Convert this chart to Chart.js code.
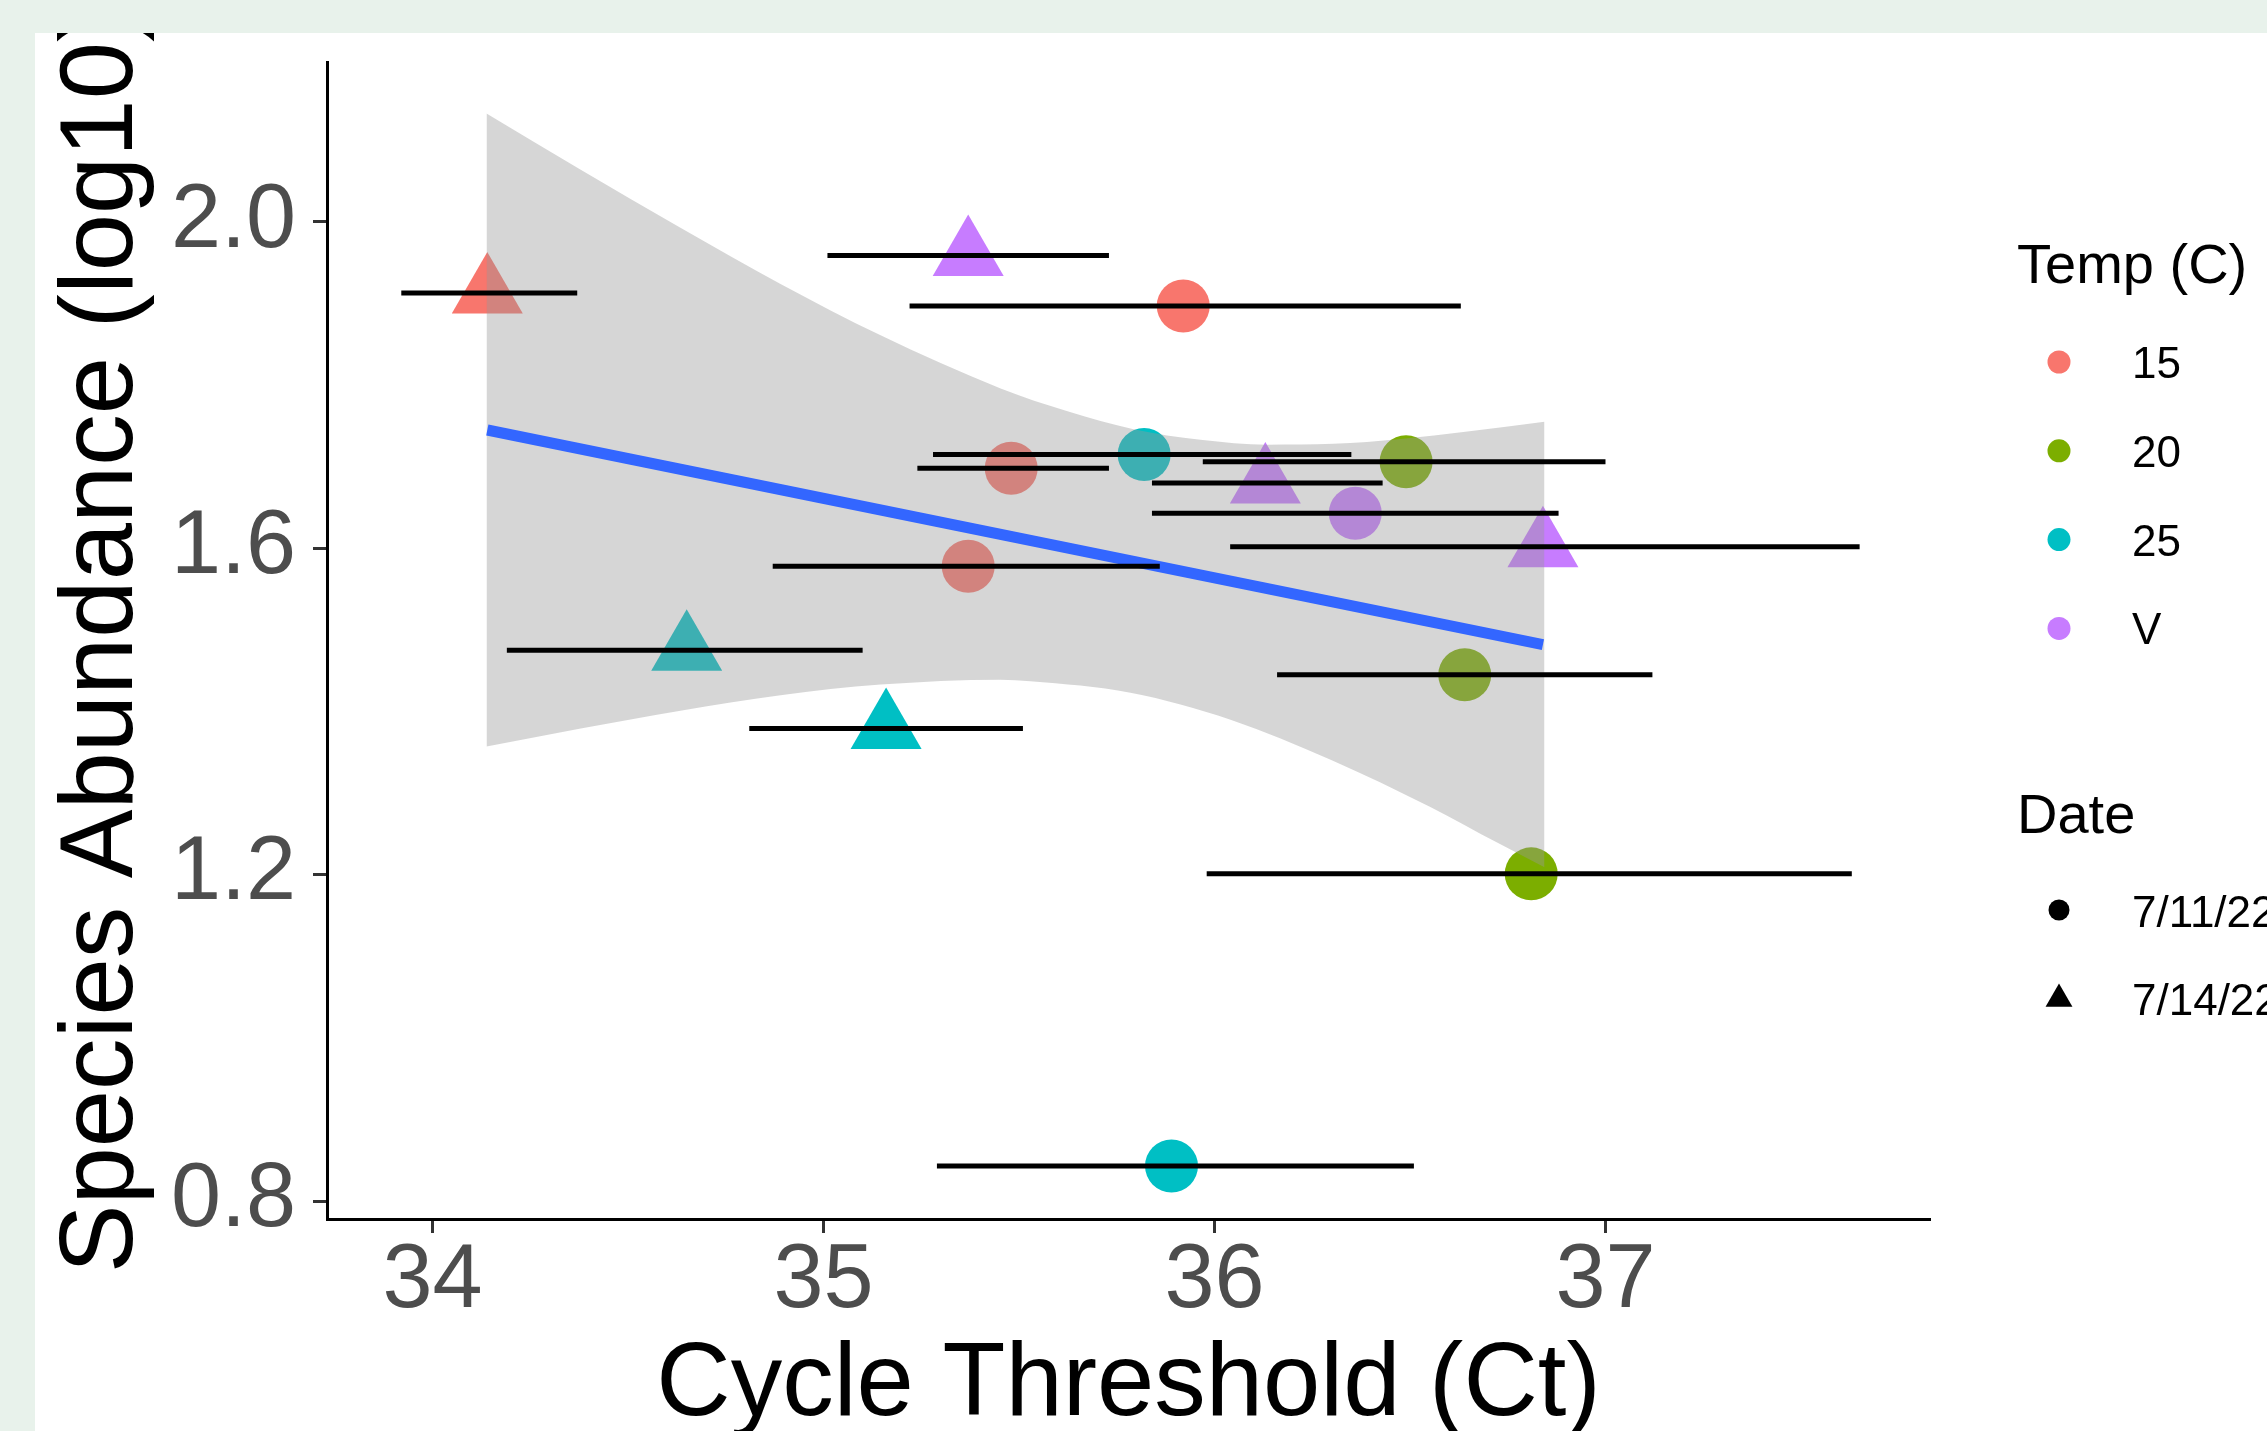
<!DOCTYPE html>
<html>
<head>
<meta charset="utf-8">
<script src="https://cdn.jsdelivr.net/npm/chart.js"></script>
<style>
  html, body { margin: 0; padding: 0; background: #e8f2eb; width: 2267px; height: 1431px; overflow: hidden; }
  #chart { position: absolute; left: 35px; top: 33px; background: #ffffff; }
</style>
</head>
<body>
<canvas id="chart" width="2232" height="1398"></canvas>
<script>
// legend groups
const temps = ["15", "20", "25", "V"];
const tempColors = ["#F8766D", "#7CAE00", "#00BFC4", "#C77CFF"];
const dates = ["7/11/22", "7/14/22"];
const dateShapes = ["circle", "triangle"];

// one entry per sample
const sampleTemp = ["15", "V", "15", "15", "25", "V", "20", "V", "V", "15", "25", "25", "20", "20", "25"];
const sampleDate = ["7/14/22", "7/14/22", "7/11/22", "7/11/22", "7/11/22", "7/14/22", "7/11/22", "7/11/22",
                    "7/14/22", "7/11/22", "7/14/22", "7/14/22", "7/11/22", "7/11/22", "7/11/22"];
const ctValues = [34.14, 35.37, 35.92, 35.48, 35.82, 36.13, 36.49, 36.36, 36.84, 35.37, 34.65, 35.16, 36.64, 36.81, 35.89];
const abundance = [1.913, 1.959, 1.897, 1.698, 1.715, 1.680, 1.706, 1.643, 1.602, 1.578, 1.475, 1.379, 1.445, 1.201, 0.843];
const ctLow = [33.92, 35.01, 35.22, 35.24, 35.28, 35.84, 35.97, 35.84, 36.04, 34.87, 34.19, 34.81, 36.16, 35.98, 35.29];
const ctHigh = [34.37, 35.73, 36.63, 35.73, 36.35, 36.43, 37.00, 36.88, 37.65, 35.86, 35.10, 35.51, 37.12, 37.63, 36.51];

// linear fit and its confidence band
const fitX = [34.14, 36.84];
const fitY = [1.745, 1.482];
const bandUpperX = [34.138, 34.379, 34.634, 34.890, 35.146, 35.453, 35.624, 35.793, 35.964, 36.136, 36.304, 36.476, 36.647, 36.844];
const bandUpperY = [2.133, 2.064, 1.993, 1.924, 1.861, 1.796, 1.768, 1.746, 1.733, 1.727, 1.728, 1.734, 1.743, 1.755];
const bandLowerX = [34.138, 34.379, 34.634, 34.890, 35.146, 35.453, 35.529, 35.785, 36.041, 36.297, 36.552, 36.724, 36.844];
const bandLowerY = [1.357, 1.379, 1.401, 1.420, 1.433, 1.439, 1.437, 1.423, 1.390, 1.341, 1.283, 1.239, 1.209];

// axes
const xTicks = [34, 35, 36, 37];
const yTicks = [0.8, 1.2, 1.6, 2.0];

const family = "'Liberation Sans', Arial, Helvetica, sans-serif";
Chart.defaults.font.family = family;

const colorOf = i => tempColors[temps.indexOf(sampleTemp[i])];
const shapeOf = i => dateShapes[dates.indexOf(sampleDate[i])];
const toPoints = (xs, ys) => xs.map((x, i) => ({ x, y: ys[i] }));

const errorBars = ctValues.map((_, i) => ({
    type: "line",
    data: [{ x: ctLow[i], y: abundance[i] }, { x: ctHigh[i], y: abundance[i] }],
    borderColor: "#000000",
    borderWidth: 5,
    pointRadius: 0,
    fill: false,
    order: 1,
}));

const ggLegend = {
    id: "ggLegend",
    afterDraw(chart) {
        const ctx = chart.ctx;
        const dot = (x, y, r) => { ctx.beginPath(); ctx.arc(x, y, r, 0, Math.PI * 2); ctx.fill(); };
        const tri = (x, y, r) => {
            ctx.beginPath();
            ctx.moveTo(x, y - r);
            ctx.lineTo(x + r * 0.866, y + r / 2);
            ctx.lineTo(x - r * 0.866, y + r / 2);
            ctx.closePath();
            ctx.fill();
        };
        ctx.save();
        ctx.textAlign = "left";
        ctx.textBaseline = "alphabetic";

        ctx.fillStyle = "#000";
        ctx.font = "56px " + family;
        ctx.fillText("Temp (C)", 1982, 250);
        temps.forEach((t, i) => {
            const base = 345 + i * 88.8;
            ctx.fillStyle = tempColors[i];
            dot(2024, base - 16, 11.5);
            ctx.fillStyle = "#000";
            ctx.font = "44px " + family;
            ctx.fillText(t, 2097, base);
        });

        ctx.font = "56px " + family;
        ctx.fillText("Date", 1982, 800);
        dates.forEach((d, i) => {
            const base = 894 + i * 88;
            ctx.fillStyle = "#000";
            if (dateShapes[i] === "circle") dot(2024, base - 17, 10.5);
            else tri(2024, base - 16, 15.5);
            ctx.font = "44px " + family;
            ctx.fillText(d, 2097, base);
        });
        ctx.restore();
    },
};

const axisGrid = { drawOnChartArea: false, drawTicks: true, tickLength: 14, tickWidth: 3, tickColor: "#333333" };
const axisBorder = { display: true, color: "#000000", width: 3 };

new Chart(document.getElementById("chart"), {
    type: "scatter",
    data: {
        datasets: [
            {
                label: "samples",
                data: toPoints(ctValues, abundance),
                showLine: false,
                pointStyle: c => shapeOf(c.dataIndex),
                pointRadius: c => shapeOf(c.dataIndex) === "triangle" ? 41 : 26.5,
                pointBackgroundColor: c => colorOf(c.dataIndex),
                pointBorderWidth: 0,
                pointBorderColor: "rgba(0,0,0,0)",
                order: 4,
            },
            {
                type: "line",
                label: "band upper",
                data: toPoints(bandUpperX, bandUpperY),
                borderColor: "rgba(0,0,0,0)",
                borderWidth: 0,
                backgroundColor: "rgba(153,153,153,0.4)",
                fill: "+1",
                pointRadius: 0,
                cubicInterpolationMode: "monotone",
                order: 3,
            },
            {
                type: "line",
                label: "band lower",
                data: toPoints(bandLowerX, bandLowerY),
                borderColor: "rgba(0,0,0,0)",
                borderWidth: 0,
                fill: false,
                pointRadius: 0,
                cubicInterpolationMode: "monotone",
                order: 3,
            },
            {
                type: "line",
                label: "fit",
                data: toPoints(fitX, fitY),
                borderColor: "#3366FF",
                borderWidth: 11,
                pointRadius: 0,
                fill: false,
                order: 2,
            },
            ...errorBars,
        ],
    },
    options: {
        responsive: false,
        devicePixelRatio: 1,
        animation: false,
        events: [],
        layout: { autoPadding: false, padding: { top: 29, right: 337, bottom: 0, left: 0 } },
        plugins: { legend: { display: false }, tooltip: { enabled: false } },
        scales: {
            x: {
                type: "linear",
                min: 33.73,
                max: 37.83,
                afterBuildTicks: s => { s.ticks = xTicks.map(v => ({ value: v })); },
                afterFit: s => { s.height = 212; s.paddingLeft = 0; s.paddingRight = 0; },
                grid: axisGrid,
                border: axisBorder,
                ticks: {
                    font: { size: 90, lineHeight: 1 },
                    color: "#4d4d4d",
                    padding: 4,
                    maxRotation: 0,
                    callback: v => String(v),
                },
                title: {
                    display: true,
                    text: "Cycle Threshold (Ct)",
                    color: "#000000",
                    font: { size: 103, lineHeight: 0.86 },
                    padding: 0,
                },
            },
            y: {
                type: "linear",
                min: 0.778,
                max: 2.196,
                afterBuildTicks: s => { s.ticks = yTicks.map(v => ({ value: v })); },
                afterFit: s => { s.width = 292; s.paddingTop = 0; s.paddingBottom = 0; },
                grid: axisGrid,
                border: axisBorder,
                ticks: {
                    font: { size: 90 },
                    color: "#4d4d4d",
                    padding: 17,
                    callback: v => v.toFixed(1),
                },
                title: {
                    display: true,
                    text: "Species Abundance (log10)",
                    color: "#000000",
                    font: { size: 103, lineHeight: 1.2 },
                    padding: { top: 7, bottom: 0 },
                },
            },
        },
    },
    plugins: [ggLegend],
});
</script>
</body>
</html>
